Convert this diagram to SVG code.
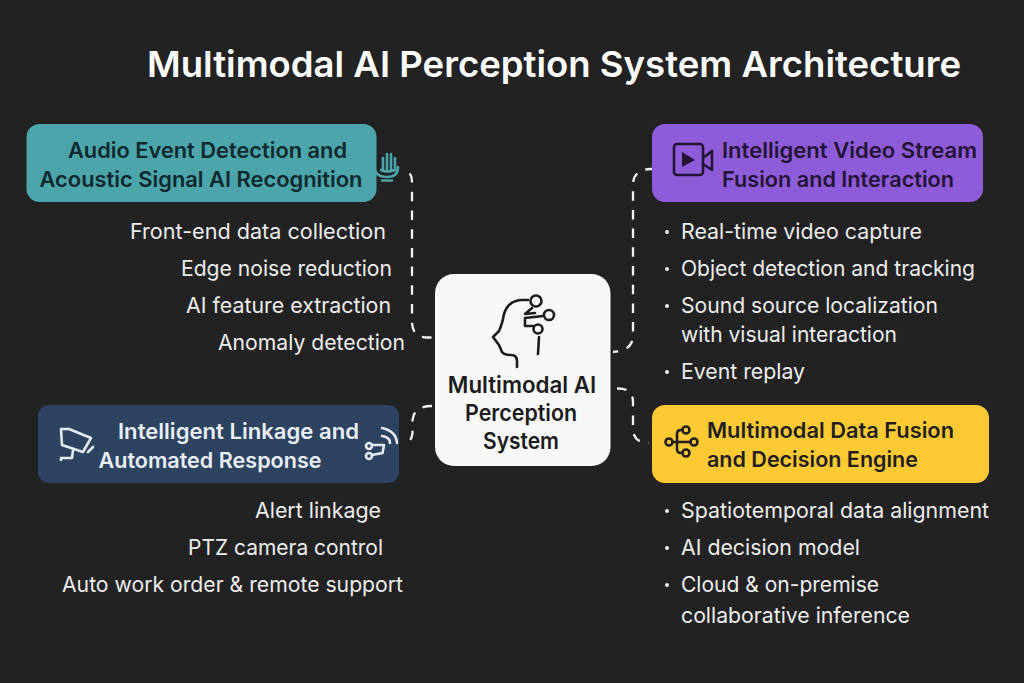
<svg xmlns="http://www.w3.org/2000/svg" width="1024" height="683" viewBox="0 0 1024 683">
<style>
text{font-family:Inter,"Liberation Sans",sans-serif}
.t{font-size:36px;font-weight:600;fill:#fff}
.h{font-size:21.5px;font-weight:600}
.b{font-size:21.400px;fill:#ededed;font-weight:400}
.e{text-anchor:end}
.c{font-size:22.300px;font-weight:600;fill:#1c1c1c;text-anchor:middle}
.i{fill:none;stroke-width:2.6;stroke-linecap:round;stroke-linejoin:round}
.k{fill:none;stroke:#f2f2f2;stroke-width:2.3;stroke-dasharray:9.500 9.200}
.d{fill:#ededed}
</style>
<rect width="1024" height="683" fill="#222223"/>
<text class="t" x="147" y="77" textLength="814" lengthAdjust="spacingAndGlyphs">Multimodal AI Perception System Architecture</text>
<g id="connectors">
<path class="k" d="M431.500 337.500H427Q412 337 412 322V182Q412 172 404 169"/>
<path class="k" stroke-dashoffset="4.500" d="M613 352Q633 351 633 335V185Q633 170 650 169H652"/>
<path class="k" d="M432 406Q414 406 412.500 420V433Q412 440 406 445"/>
<path class="k" d="M617 388.500Q633 388 633 402V428Q633 443 649 443"/>
</g>
<g id="node-audio">
<rect x="26.500" y="124" width="350" height="78" rx="13" fill="#4ba5aa"/>
<text class="h" fill="#10292f" x="207.500" y="157.500" text-anchor="middle" textLength="279" lengthAdjust="spacingAndGlyphs">Audio Event Detection and</text>
<text class="h" fill="#10292f" x="201" y="186.500" text-anchor="middle" textLength="323" lengthAdjust="spacingAndGlyphs">Acoustic Signal AI Recognition</text>
<g class="i" stroke="#4ba5aa" stroke-width="2.200"><path d="M374 165Q374 177 387 177Q398 177 398 167M383 169V158M387 170V154M391 170V154M395 168V158M381 170Q387 173 395 170M382 180.500H392"/></g>
<text class="b e" x="386" y="239" textLength="256" lengthAdjust="spacingAndGlyphs">Front-end data collection</text>
<text class="b e" x="392" y="276" textLength="211" lengthAdjust="spacingAndGlyphs">Edge noise reduction</text>
<text class="b e" x="391" y="313" textLength="205" lengthAdjust="spacingAndGlyphs">AI feature extraction</text>
<text class="b e" x="405" y="350" textLength="187" lengthAdjust="spacingAndGlyphs">Anomaly detection</text>
</g>
<g id="node-center">
<rect x="435" y="274" width="175.500" height="192" rx="19" fill="#f8f8f8"/>
<g class="i" stroke="#1d1d1d" stroke-width="3"><path d="M528 300H521Q508 301 504 314Q502 325 499 331L493 337L499 345L502 352Q504 355 511 355Q517 355 517 361V367"/><circle cx="536" cy="301" r="5.500"/><circle cx="549" cy="315" r="5"/><circle cx="538" cy="329" r="4.500"/><path d="M532 308L525 314L535 313M543 316L525 318V326H534M539 337L538 354"/></g>
<text class="c" x="522" y="393">Multimodal AI</text>
<text class="c" x="521" y="420.500" textLength="112" lengthAdjust="spacingAndGlyphs">Perception</text>
<text class="c" x="521" y="448.500" textLength="76" lengthAdjust="spacingAndGlyphs">System</text>
</g>
<g id="node-video">
<rect x="652" y="124" width="331" height="78" rx="13" fill="#8e5cd9"/>
<g class="i" stroke="#241536" stroke-width="3"><rect x="674" y="144" width="29" height="31" rx="3"/><path d="M703 158L712 151V170L703 164"/></g>
<path d="M682 152L695 160L682 167Z" fill="#241536"/>
<text class="h" fill="#241536" x="722" y="157.500" textLength="255" lengthAdjust="spacingAndGlyphs">Intelligent Video Stream</text>
<text class="h" fill="#241536" x="722" y="186.500" textLength="232" lengthAdjust="spacingAndGlyphs">Fusion and Interaction</text>
<circle class="d" cx="667" cy="232" r="2"/><circle class="d" cx="667" cy="269" r="2"/><circle class="d" cx="667" cy="306" r="2"/><circle class="d" cx="667" cy="372" r="2"/>
<text class="b" x="681" y="239" textLength="241" lengthAdjust="spacingAndGlyphs">Real-time video capture</text>
<text class="b" x="681" y="276" textLength="294" lengthAdjust="spacingAndGlyphs">Object detection and tracking</text>
<text class="b" x="681" y="313" textLength="257" lengthAdjust="spacingAndGlyphs">Sound source localization</text>
<text class="b" x="681" y="342" textLength="216" lengthAdjust="spacingAndGlyphs">with visual interaction</text>
<text class="b" x="681" y="379" textLength="124" lengthAdjust="spacingAndGlyphs">Event replay</text>
</g>
<g id="node-linkage">
<rect x="38" y="405" width="361" height="78" rx="11" fill="#2d4360"/>
<g class="i" stroke="#e3ebf2" stroke-width="2.400"><path d="M61 429H69L91 438L83 452L62 445ZM73 450L72 458H61V460M88 452L93 447"/></g>
<text class="h" fill="#e9eff5" x="118" y="438.500" textLength="241" lengthAdjust="spacingAndGlyphs">Intelligent Linkage and</text>
<text class="h" fill="#e9eff5" x="98.500" y="467.500" textLength="223" lengthAdjust="spacingAndGlyphs">Automated Response</text>
<g class="i" stroke="#e3ebf2" stroke-width="2"><circle cx="369" cy="446" r="3"/><circle cx="369" cy="456" r="3"/><path d="M372 445H384L382.500 453L372 455M382 428Q396 431 397 443M382 436Q390 437 390 443"/></g>
<text class="b e" x="381" y="518" textLength="126" lengthAdjust="spacingAndGlyphs">Alert linkage</text>
<text class="b e" x="383" y="555" textLength="195" lengthAdjust="spacingAndGlyphs">PTZ camera control</text>
<text class="b e" x="403" y="592" textLength="341" lengthAdjust="spacingAndGlyphs">Auto work order &amp; remote support</text>
</g>
<g id="node-fusion">
<rect x="652" y="405" width="337" height="78" rx="13" fill="#fdca33"/>
<g class="i" stroke="#1f1f1f" stroke-width="2.400"><circle cx="669" cy="442" r="3.500"/><circle cx="686" cy="430" r="3.500"/><circle cx="694" cy="442" r="3.500"/><circle cx="686" cy="453" r="3.500"/><path d="M673 442H690M682 430H681Q677 430 677 434V449Q677 453 681 453H682"/></g>
<text class="h" fill="#1f1f1f" x="707" y="437.500" textLength="247" lengthAdjust="spacingAndGlyphs">Multimodal Data Fusion</text>
<text class="h" fill="#1f1f1f" x="707" y="466.500" textLength="211" lengthAdjust="spacingAndGlyphs">and Decision Engine</text>
<circle class="d" cx="667" cy="511" r="2"/><circle class="d" cx="667" cy="548" r="2"/><circle class="d" cx="667" cy="585" r="2"/>
<text class="b" x="681" y="518" textLength="308" lengthAdjust="spacingAndGlyphs">Spatiotemporal data alignment</text>
<text class="b" x="681" y="555" textLength="179" lengthAdjust="spacingAndGlyphs">AI decision model</text>
<text class="b" x="681" y="592" textLength="198" lengthAdjust="spacingAndGlyphs">Cloud &amp; on-premise</text>
<text class="b" x="681" y="623" textLength="229" lengthAdjust="spacingAndGlyphs">collaborative inference</text>
</g>
</svg>
